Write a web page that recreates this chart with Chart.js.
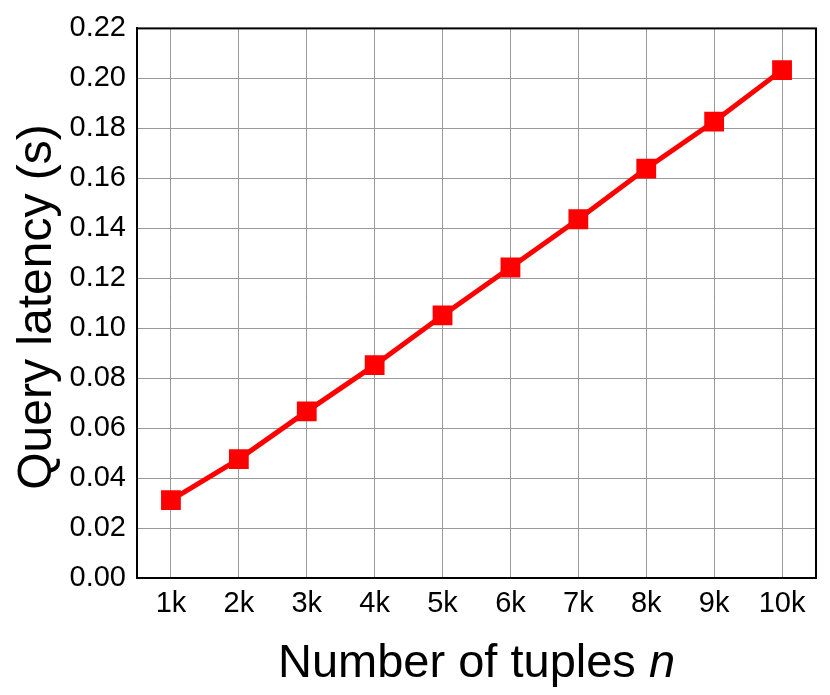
<!DOCTYPE html>
<html>
<head>
<meta charset="utf-8">
<script src="https://cdn.jsdelivr.net/npm/chart.js@4/dist/chart.umd.min.js"></script>
<style>
  body { margin: 0; background: #fff; }
  canvas { display: block; }
</style>
</head>
<body>
<canvas id="latencyChart" width="830" height="695"></canvas>
<script>
// data
const tupleLabels = ['1k', '2k', '3k', '4k', '5k', '6k', '7k', '8k', '9k', '10k'];
const latency = [0.0312, 0.0476, 0.0667, 0.0852, 0.1051, 0.1243, 0.1436, 0.1639, 0.1827, 0.2033];

const yMin = 0;
const yMax = 0.22;
const yStep = 0.02;

const FONT = '"Liberation Sans", Arial, Helvetica, sans-serif';

// frame + axis titles
const framePlugin = {
  id: 'frame',
  beforeDatasetsDraw(chart) {
    const { ctx, chartArea: a } = chart;
    ctx.save();
    ctx.strokeStyle = '#000';
    ctx.lineWidth = 2;
    ctx.strokeRect(a.left, a.top, a.right - a.left, a.bottom - a.top);
    ctx.restore();
  },
  afterDraw(chart) {
    const { ctx, chartArea: a } = chart;
    ctx.save();
    ctx.fillStyle = '#000';
    ctx.textBaseline = 'alphabetic';

    // x title, with italic n
    const plain = 'Number of tuples ';
    ctx.font = `47px ${FONT}`;
    const w1 = ctx.measureText(plain).width;
    ctx.font = `italic 47px ${FONT}`;
    const w2 = ctx.measureText('n').width;
    let x = (a.left + a.right) / 2 - (w1 + w2) / 2;
    ctx.textAlign = 'left';
    ctx.font = `47px ${FONT}`;
    ctx.fillText(plain, x, 677);
    ctx.font = `italic 47px ${FONT}`;
    ctx.fillText('n', x + w1, 677);

    // y title
    ctx.translate(51, 307);
    ctx.rotate(-Math.PI / 2);
    ctx.textAlign = 'center';
    ctx.font = `48px ${FONT}`;
    ctx.fillText('Query latency (s)', 0, 0);
    ctx.restore();
  },
};

const ctx = document.getElementById('latencyChart').getContext('2d');
new Chart(ctx, {
  type: 'line',
  data: {
    labels: tupleLabels,
    datasets: [
      {
        data: latency,
        borderColor: '#ff0000',
        backgroundColor: '#ff0000',
        borderWidth: 5,
        borderCapStyle: 'round',
        tension: 0,
        pointStyle: 'rect',
        pointRadius: 14,
        pointBorderWidth: 0,
        pointBackgroundColor: '#ff0000',
      },
    ],
  },
  options: {
    responsive: false,
    animation: false,
    layout: { padding: { top: 28, right: 13, left: 0, bottom: 0 } },
    plugins: {
      legend: { display: false },
      tooltip: { enabled: false },
    },
    scales: {
      x: {
        offset: true,
        grid: { offset: false, color: '#999', lineWidth: 1, drawTicks: false },
        border: { color: '#000', width: 2 },
        ticks: { color: '#000', font: { family: FONT, size: 29 }, padding: 9, maxRotation: 0 },
        afterFit(scale) { scale.height = 117; },
      },
      y: {
        min: yMin,
        max: yMax,
        grid: { color: '#999', lineWidth: 1, drawTicks: false },
        border: { color: '#000', width: 2 },
        ticks: {
          stepSize: yStep,
          color: '#000',
          font: { family: FONT, size: 29 },
          padding: 11,
          callback: (v) => Number(v).toFixed(2),
        },
        afterFit(scale) { scale.width = 137; },
      },
    },
  },
  plugins: [framePlugin],
});
</script>
</body>
</html>
